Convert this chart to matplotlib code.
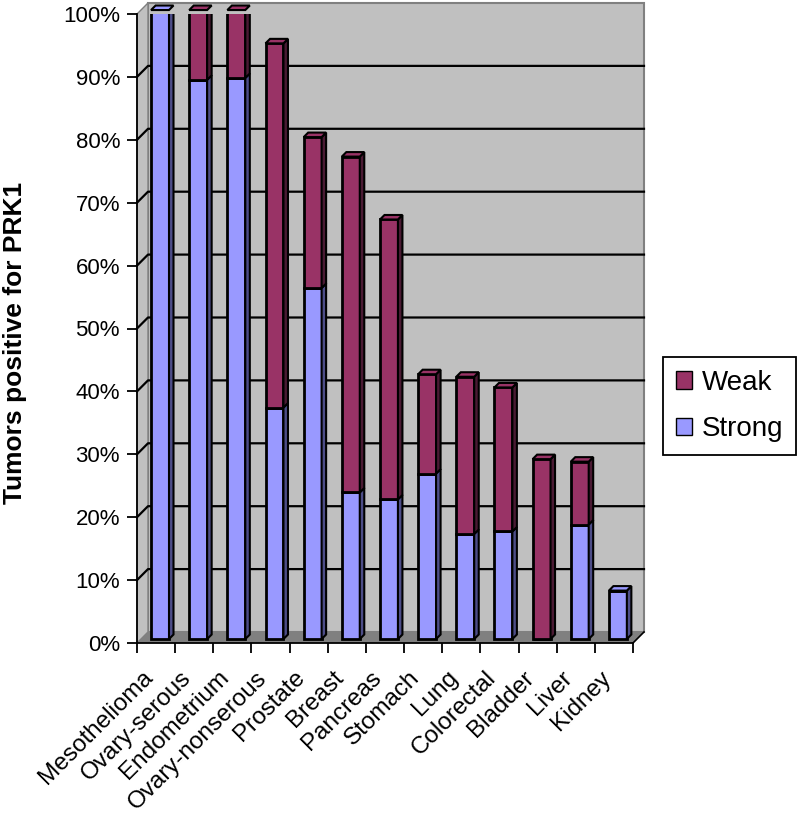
import numpy as np
import matplotlib
matplotlib.use('Agg')
import matplotlib.pyplot as plt
from matplotlib.patches import Polygon, Patch

plt.rcParams['font.family'] = ['Liberation Sans', 'DejaVu Sans']

tumors = ['Mesothelioma', 'Ovary-serous', 'Endometrium', 'Ovary-nonserous',
          'Prostate', 'Breast', 'Pancreas', 'Stomach', 'Lung', 'Colorectal',
          'Bladder', 'Liver', 'Kidney']
strong = [100, 88.9, 89.2, 36.8, 55.8, 23.3, 22.2, 26.3, 16.7, 17.1, 0, 18.2, 7.7]
weak = [0, 11.1, 10.8, 57.9, 24.0, 53.4, 44.5, 15.8, 25.0, 22.9, 28.6, 10.0, 0]
y_ticks = list(range(0, 101, 10))

STRONG_C = '#9999FF'
WEAK_C = '#993366'
STRONG_SIDE = '#4D4D88'
WEAK_SIDE = '#4A1A33'
WALL = '#C0C0C0'
FLOOR = '#808080'

# fake 3d: depth of the box in data units (~11 px)
DX, DY = 0.288, 1.75
BAR_OFF = 0.36     # bars start a bit behind the front edge
BAR_DEPTH = 0.41
BAR_W = 0.47

n = len(tumors)
fig = plt.figure(figsize=(8, 8.25), dpi=100)
ax = fig.add_axes([137 / 800, 1 - 643 / 825, 496 / 800, 629 / 825])
ax.set_xlim(0, n)
ax.set_ylim(0, 100)
ax.patch.set_visible(False)

# walls and floor
back = Polygon([(DX, DY), (n + DX, DY), (n + DX, 100 + DY), (DX, 100 + DY)],
               closed=True, fc=WALL, ec=FLOOR, lw=1.5, clip_on=False, zorder=0)
side = Polygon([(0, 0), (DX, DY), (DX, 100 + DY), (0, 100)],
               closed=True, fc=WALL, ec=FLOOR, lw=1.0, clip_on=False, zorder=0)
floor = Polygon([(0, 0), (n, 0), (n + DX, DY), (DX, DY)],
                closed=True, fc=FLOOR, ec='none', clip_on=False, zorder=0)
for p in (back, side, floor):
    ax.add_patch(p)
ax.plot([n, n + DX], [0, DY], color='k', lw=1.2, clip_on=False, zorder=1)

# gridlines on back wall + side wall
for v in y_ticks[1:-1]:
    ax.plot([0, DX, n + DX], [v, v + DY, v + DY], color='k', lw=1.6,
            clip_on=False, zorder=1)

# bars
x = np.arange(n) + 0.5 + BAR_OFF * DX
base = BAR_OFF * DY
strong_a = np.array(strong)
weak_a = np.array(weak)
ax.bar(x, strong_a, BAR_W, bottom=base, color=STRONG_C, edgecolor='k', lw=2, zorder=3)
ax.bar(x, weak_a, BAR_W, bottom=base + strong_a, color=WEAK_C, edgecolor='k', lw=2, zorder=3)

bdx, bdy = BAR_DEPTH * DX, BAR_DEPTH * DY
for xi, s, w in zip(x, strong_a, weak_a):
    r = xi + BAR_W / 2
    segs = [(base, base + s, STRONG_SIDE), (base + s, base + s + w, WEAK_SIDE)]
    for y0, y1, c in segs:
        if y1 - y0 <= 0:
            continue
        ax.add_patch(Polygon([(r, y0), (r + bdx, y0 + bdy), (r + bdx, y1 + bdy), (r, y1)],
                             closed=True, fc=c, ec='k', lw=1.5, zorder=3))
    top = base + s + w
    top_c = WEAK_C if w > 0 else STRONG_C
    ax.add_patch(Polygon([(xi - BAR_W / 2, top), (r, top), (r + bdx, top + bdy),
                          (xi - BAR_W / 2 + bdx, top + bdy)],
                         closed=True, fc=top_c, ec='k', lw=1.5, zorder=3, clip_on=False))

# axes
for s in ('top', 'right'):
    ax.spines[s].set_visible(False)
for s in ('left', 'bottom'):
    ax.spines[s].set_linewidth(1.3)
    ax.spines[s].set_zorder(4)

ax.set_yticks(y_ticks)
ax.set_yticklabels([f'{v}%' for v in y_ticks])
ax.tick_params(axis='y', length=7.2, width=1.3, labelsize=16, pad=5)

ax.set_xticks(np.arange(n + 1))
ax.set_xticklabels([])
ax.set_xticks(np.arange(n) + 0.12, minor=True)
ax.set_xticklabels(tumors, minor=True)
ax.tick_params(axis='x', which='major', length=7.2, width=1.3)
ax.tick_params(axis='x', which='minor', length=0, labelsize=17.5, pad=17)
plt.setp(ax.get_xticklabels(minor=True), rotation=45, ha='right', va='top',
         rotation_mode='anchor')

fig.text(15 / 800, 1 - 343 / 825, 'Tumors positive for PRK1', rotation=90,
         fontsize=19, fontweight='bold', ha='center', va='center')

handles = [Patch(fc=WEAK_C, ec='k', label='Weak'),
           Patch(fc=STRONG_C, ec='k', label='Strong')]
leg = fig.legend(handles=handles, loc='upper left',
                 bbox_to_anchor=(663 / 800, 1 - 357 / 825), fontsize=20,
                 frameon=True, fancybox=False, edgecolor='k', framealpha=1,
                 handlelength=0.6, handleheight=0.6, handletextpad=0.35,
                 labelspacing=0.75, borderpad=0.45, borderaxespad=0)
leg.get_frame().set_linewidth(1.3)

fig.savefig('out.png', dpi=100)
